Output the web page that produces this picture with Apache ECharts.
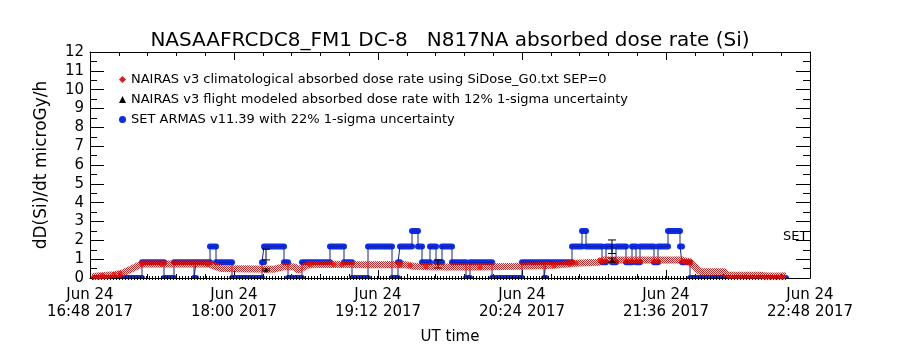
<!DOCTYPE html>
<html>
<head>
<meta charset="utf-8">
<script src="https://cdn.jsdelivr.net/npm/echarts@6/dist/echarts.min.js"></script>
<style>
  html, body { margin: 0; padding: 0; background: #fff; }
  #chart { width: 900px; height: 350px; }
</style>
</head>
<body>
<div id="chart"></div>
<script>
// NAIRAS v3 climatological absorbed dose rate (red band)
var climTime = ['16:49', '16:54', '17:00', '17:04', '17:14', '17:47', '17:54', '18:20', '18:25', '18:30',
  '18:32', '18:37', '18:50', '19:05', '19:25', '19:30', '19:41', '20:03', '20:21', '20:40',
  '20:50', '21:02', '21:04', '21:44', '21:48', '21:53', '22:05', '22:07', '22:24', '22:26', '22:36']
var climRate = [0.08, 0.12, 0.18, 0.25, 0.75, 0.75, 0.5, 0.47, 0.6, 0.6,
  0.42, 0.7, 0.73, 0.7, 0.72, 0.62, 0.58, 0.58, 0.62, 0.68,
  0.78, 0.83, 0.95, 0.95, 0.85, 0.35, 0.33, 0.15, 0.15, 0.1, 0.1]
// the bigger red dots along the band
var climDotTime = ['16:54', '17:00', '17:03', '17:14', '17:24', '17:47', '18:38', '18:50', '18:54', '19:23',
  '19:28', '19:36', '20:03', '20:40', '20:48', '20:51', '21:03', '21:45']
var climDotRate = [0.15, 0.2, 0.25, 0.72, 0.72, 0.72, 0.72, 0.72, 0.72, 0.68,
  0.68, 0.6, 0.56, 0.65, 0.73, 0.8, 0.93, 0.88]

// NAIRAS v3 flight modeled (black), zero over the whole flight except two points
var flightZeroTime = ['16:49', '22:36']
var flightTime = ['18:16', '21:09']
var flightRate = [0.43, 0.95]
var flightLow = [0.38, 0.84]
var flightHigh = [0.48, 1.06]

// SET ARMAS runs: start, end, level
var setStart = ['16:50', '17:14', '17:25', '17:30', '17:40', '17:41', '17:48', '17:51', '17:59', '18:14',
  '18:15', '18:25', '18:27', '18:34', '18:48', '18:55', '18:59', '19:07', '19:19', '19:22',
  '19:23', '19:29', '19:32', '19:34', '19:38', '19:41', '19:44', '19:49', '19:56', '19:58',
  '20:09', '20:24', '20:35', '20:36', '20:49', '20:54', '20:56', '21:04', '21:06', '21:09',
  '21:11', '21:16', '21:19', '21:21', '21:23', '21:30', '21:32', '21:37', '21:43', '21:44', '21:48']
var setEnd = ['17:14', '17:25', '17:30', '17:40', '17:41', '17:48', '17:51', '17:59', '18:14', '18:15',
  '18:25', '18:27', '18:34', '18:48', '18:55', '18:59', '19:07', '19:19', '19:22', '19:23',
  '19:29', '19:32', '19:34', '19:38', '19:41', '19:44', '19:49', '19:56', '19:58', '20:09',
  '20:24', '20:35', '20:36', '20:49', '20:54', '20:56', '21:04', '21:06', '21:09', '21:11',
  '21:16', '21:19', '21:21', '21:23', '21:30', '21:32', '21:37', '21:43', '21:44', '21:48', '22:36']
var setLevel = [0, 0.83, 0, 0.83, 0, 0.83, 1.67, 0.83, 0, 0.83,
  1.67, 0.83, 0, 0.83, 1.67, 0.83, 0, 1.67, 0, 0.83,
  1.67, 2.5, 1.67, 0.83, 1.67, 0.83, 1.67, 0.83, 0, 0.83,
  0, 0.83, 0, 0.83, 1.67, 2.5, 1.67, 0.83, 1.67, 0.83,
  1.67, 0.83, 1.67, 0.83, 1.67, 0.83, 1.67, 2.5, 1.67, 0.83, 0]
// SET 22% error bars
var setErrTime = ['18:16', '19:42', '21:09']
var setErrLow = [0.96, 0.53, 1.30]
var setErrHigh = [1.53, 0.96, 2.02]

var yTicks = [0, 12, 1]   // min, max, step
var xTicks = ['16:48', '22:48', 72]   // min, max, step in minutes

var climName = 'NAIRAS v3 climatological absorbed dose rate using SiDose_G0.txt SEP=0'
var flightName = 'NAIRAS v3 flight modeled absorbed dose rate with 12% 1-sigma uncertainty'
var setName = 'SET ARMAS v11.39 with 22% 1-sigma uncertainty'

function toMin(s) {
  var p = s.split(':')
  return +p[0] * 60 + +p[1]
}
function pad(n) { return (n < 10 ? '0' : '') + n }

var RED = '#d81e1e'
var BLUE = '#0a2cf0'
var FONT = 'DejaVu Sans'

// red/white checker used for the climatological band
var checker = document.createElement('canvas')
checker.width = 2
checker.height = 2
var cx = checker.getContext('2d')
cx.fillStyle = RED
cx.fillRect(0, 0, 1, 1)
cx.fillRect(1, 1, 1, 1)

var climData = climTime.map(function (t, i) { return [toMin(t), climRate[i]] })
var climDots = climDotTime.map(function (t, i) { return [toMin(t), climDotRate[i]] })
var flightZero = flightZeroTime.map(function (t) { return [toMin(t), 0] })
var flightData = flightTime.map(function (t, i) { return [toMin(t), flightRate[i]] })
var flightErr = flightTime.map(function (t, i) { return [toMin(t), flightLow[i], flightHigh[i]] })
var setRuns = setStart.map(function (t, i) { return [toMin(t), toMin(setEnd[i]), setLevel[i]] })
var setLine = []
setRuns.forEach(function (r) {
  setLine.push([r[0], r[2]])
  setLine.push([r[1], r[2]])
})
var setErr = setErrTime.map(function (t, i) { return [toMin(t), setErrLow[i], setErrHigh[i]] })

function renderErr(params, api) {
  var lo = api.coord([api.value(0), api.value(1)])
  var hi = api.coord([api.value(0), api.value(2)])
  var st = { stroke: '#000', lineWidth: 1 }
  return {
    type: 'group',
    children: [
      { type: 'line', shape: { x1: lo[0], y1: lo[1], x2: hi[0], y2: hi[1] }, style: st },
      { type: 'line', shape: { x1: lo[0] - 4, y1: lo[1], x2: lo[0] + 4, y2: lo[1] }, style: st },
      { type: 'line', shape: { x1: hi[0] - 4, y1: hi[1], x2: hi[0] + 4, y2: hi[1] }, style: st }
    ]
  }
}

function renderRun(params, api) {
  var s = api.coord([api.value(0), api.value(2)])
  var e = api.coord([api.value(1), api.value(2)])
  return {
    type: 'rect',
    shape: { x: s[0] - 3, y: s[1] - 3, width: e[0] - s[0] + 6, height: 6, r: 3 },
    style: { fill: BLUE }
  }
}

var axisText = { color: '#000', fontFamily: FONT, fontSize: 15 }
var xAxisBase = {
  type: 'value',
  min: toMin(xTicks[0]),
  max: toMin(xTicks[1]),
  interval: xTicks[2],
  axisLine: { show: true, onZero: false, lineStyle: { color: '#000', width: 1 } },
  axisTick: { show: true, inside: true, length: 8, lineStyle: { color: '#000' } },
  minorTick: { show: true, splitNumber: 5, length: 4, lineStyle: { color: '#000' } },
  splitLine: { show: false }
}
var yAxisBase = {
  type: 'value',
  min: yTicks[0],
  max: yTicks[1],
  interval: yTicks[2],
  axisLine: { show: true, onZero: false, lineStyle: { color: '#000', width: 1 } },
  axisTick: { show: true, inside: true, length: 14, lineStyle: { color: '#000' } },
  minorTick: { show: true, splitNumber: 2, length: 7, lineStyle: { color: '#000' } },
  splitLine: { show: false }
}

var myChart = echarts.init(document.getElementById('chart'))
var option = {
  backgroundColor: '#fff',
  animation: false,
  title: {
    text: 'NASAAFRCDC8_FM1 DC-8   N817NA absorbed dose rate (Si)',
    left: 'center',
    top: 26,
    textStyle: { color: '#000', fontFamily: FONT, fontSize: 20, fontWeight: 'normal' }
  },
  legend: {
    orient: 'vertical',
    left: 119,
    top: 73,
    padding: 0,
    itemGap: 7,
    itemWidth: 7,
    itemHeight: 7,
    textStyle: { color: '#000', fontFamily: FONT, fontSize: 13 },
    data: [
      { name: climName, icon: 'diamond', itemStyle: { color: RED } },
      { name: flightName, icon: 'triangle', itemStyle: { color: '#000' } },
      { name: setName, icon: 'circle', itemStyle: { color: BLUE } }
    ]
  },
  grid: { left: 90, right: 90, top: 52, bottom: 71 },
  xAxis: [
    Object.assign({}, xAxisBase, {
      position: 'bottom',
      name: 'UT time',
      nameLocation: 'middle',
      nameGap: 52,
      nameTextStyle: axisText,
      axisLabel: Object.assign({
        margin: 9,
        lineHeight: 17,
        formatter: function (v) {
          return 'Jun 24\n' + pad(Math.floor(v / 60)) + ':' + pad(v % 60) + ' 2017'
        }
      }, axisText)
    }),
    Object.assign({}, xAxisBase, { position: 'top', axisLabel: { show: false } })
  ],
  yAxis: [
    Object.assign({}, yAxisBase, {
      position: 'left',
      name: 'dD(Si)/dt microGy/h',
      nameLocation: 'middle',
      nameGap: 40,
      nameRotate: 90,
      nameTextStyle: { color: '#000', fontFamily: FONT, fontSize: 17 },
      axisLabel: Object.assign({ margin: 6 }, axisText)
    }),
    Object.assign({}, yAxisBase, { position: 'right', axisLabel: { show: false } })
  ],
  graphic: [
    { type: 'text', left: 783, top: 230, style: { text: 'SET', fill: '#000', font: '13px ' + FONT } }
  ],
  series: [
    {
      name: setName,
      type: 'custom',
      renderItem: renderRun,
      clip: true,
      itemStyle: { color: BLUE },
      data: setRuns,
      z: 2
    },
    {
      name: setName,
      type: 'line',
      data: setLine,
      showSymbol: false,
      lineStyle: { color: '#1020a8', width: 1 },
      itemStyle: { color: BLUE },
      z: 3
    },
    {
      name: flightName,
      type: 'line',
      data: flightZero,
      showSymbol: false,
      lineStyle: { color: '#000', width: 4, type: [1, 2] },
      itemStyle: { color: '#000' },
      z: 3
    },
    {
      name: climName,
      type: 'line',
      data: climData,
      showSymbol: false,
      lineStyle: { color: { image: checker, repeat: 'repeat' }, width: 7 },
      itemStyle: { color: RED },
      z: 4
    },
    {
      name: climName,
      type: 'scatter',
      data: climDots,
      symbol: 'circle',
      symbolSize: 5,
      itemStyle: { color: '#e01010' },
      z: 5
    },
    {
      name: flightName,
      type: 'scatter',
      data: flightData,
      symbol: 'triangle',
      symbolSize: 5,
      itemStyle: { color: '#000' },
      z: 6
    },
    {
      name: flightName,
      type: 'custom',
      renderItem: renderErr,
      data: flightErr,
      z: 6
    },
    {
      name: setName,
      type: 'custom',
      renderItem: renderErr,
      data: setErr,
      z: 6
    }
  ]
}
option && myChart.setOption(option)
</script>
</body>
</html>
